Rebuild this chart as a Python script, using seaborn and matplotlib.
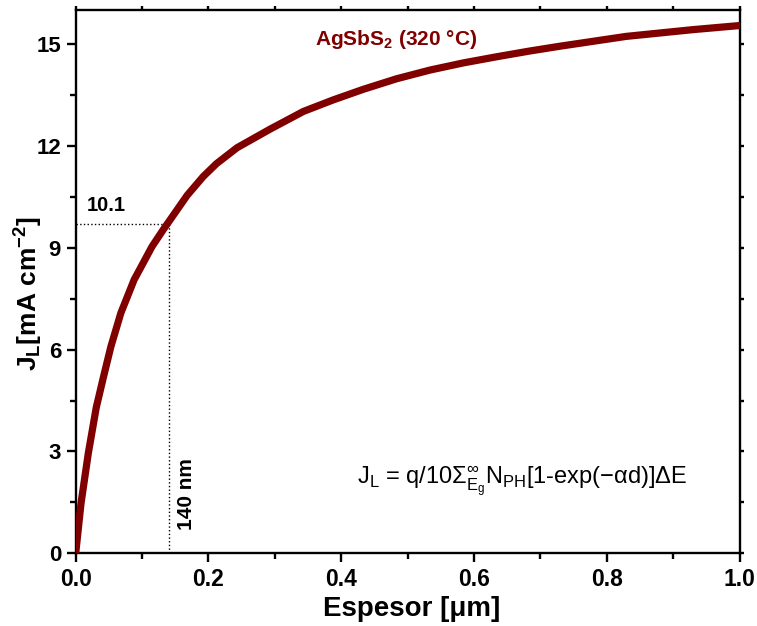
import matplotlib

matplotlib.use("Agg")
import matplotlib.pyplot as plt
import pandas as pd
import seaborn as sns
from matplotlib.ticker import MultipleLocator

# Curva J_L vs espesor
thickness_um = [0.0, 0.008, 0.019, 0.031, 0.042, 0.053, 0.068, 0.088, 0.115, 0.132,
                0.168, 0.192, 0.212, 0.243, 0.293, 0.343, 0.388, 0.433, 0.483, 0.534,
                0.584, 0.634, 0.684, 0.729, 0.829, 0.930, 1.0]
jl_ma_cm2 = [0.0, 1.47, 2.95, 4.30, 5.21, 6.09, 7.08, 8.06, 9.04, 9.54,
             10.55, 11.10, 11.48, 11.95, 12.50, 13.02, 13.36, 13.67, 13.98, 14.24,
             14.45, 14.63, 14.80, 14.94, 15.23, 15.43, 15.55]

marker_x = 0.14
marker_y = 9.71
marker_y_label = "10.1"
marker_x_label = "140 nm"
sample_label = "AgSbS$_\\mathbf{2}$ (320 °C)"

x_ticks = [0.0, 0.2, 0.4, 0.6, 0.8, 1.0]
y_ticks = [0, 3, 6, 9, 12, 15]

sns.set_theme(style="ticks")
plt.rcParams["font.family"] = ["Liberation Sans", "DejaVu Sans"]
plt.rcParams["mathtext.fontset"] = "custom"
plt.rcParams["mathtext.rm"] = "Liberation Sans"
plt.rcParams["mathtext.it"] = "Liberation Sans"
plt.rcParams["mathtext.bf"] = "Liberation Sans:bold"
for key in ["text.color", "axes.labelcolor", "xtick.color", "ytick.color", "axes.edgecolor"]:
    plt.rcParams[key] = "black"

df = pd.DataFrame({"d": thickness_um, "jl": jl_ma_cm2})

fig = plt.figure(figsize=(7.57, 6.26), dpi=100)
ax = fig.add_axes([0.1, 0.1161, 0.8771, 0.8675])

sns.lineplot(data=df, x="d", y="jl", ax=ax, color="#800000", linewidth=5.2, zorder=3)

# lineas punteadas de referencia
ax.plot([0, marker_x], [marker_y, marker_y], color="black", linestyle=":", linewidth=1)
ax.plot([marker_x, marker_x], [0, marker_y], color="black", linestyle=":", linewidth=1)

ax.set_xlim(0, 1.0)
ax.set_ylim(0, 16)
ax.set_xticks(x_ticks)
ax.set_yticks(y_ticks)
ax.set_xticklabels([f"{v:.1f}" for v in x_ticks])
ax.xaxis.set_minor_locator(MultipleLocator(0.1))
ax.yaxis.set_minor_locator(MultipleLocator(1.5))

for s in ax.spines.values():
    s.set_visible(True)
    s.set_linewidth(1.7)

ax.tick_params(which="major", direction="out", length=6.5, width=1.7,
               pad=4, top=True, right=True, labeltop=False, labelright=False)
ax.tick_params(which="minor", direction="out", length=4, width=1.7, top=True, right=True)
ax.tick_params(axis="x", which="major", labelsize=16.5)
ax.tick_params(axis="y", which="major", labelsize=16)
for lbl in ax.get_xticklabels() + ax.get_yticklabels():
    lbl.set_fontweight("bold")

# ticks cortos arriba y a la derecha
for axis in (ax.xaxis, ax.yaxis):
    for t in axis.get_major_ticks() + axis.get_minor_ticks():
        t.tick2line.set_markersize(3)

ax.set_xlabel("Espesor [μm]", fontsize=20, fontweight="bold")
ax.set_ylabel("J$_\\mathbf{L}$[mA cm$^\\mathbf{-2}$]", fontsize=19, fontweight="bold")
ax.xaxis.set_label_coords(0.506, -0.078)
ax.yaxis.set_label_coords(-0.046, 0.478)

ax.text(0.36, 15.13, sample_label, color="#800000", fontsize=15, fontweight="bold",
        ha="left", va="center")
ax.text(0.016, 10.26, marker_y_label, fontsize=14.5, fontweight="bold", ha="left", va="center")
ax.text(0.167, 1.75, marker_x_label, fontsize=15, fontweight="bold", rotation=90,
        ha="center", va="center")
ax.text(0.423, 2.12,
        "J$_\\mathregular{L}$ = q/10$\\Sigma^{\\infty}_{E_g}$N$_\\mathregular{PH}$[1-exp(−αd)]ΔE",
        fontsize=17, ha="left", va="center")

fig.savefig("out.png", dpi=100)
plt.close(fig)
